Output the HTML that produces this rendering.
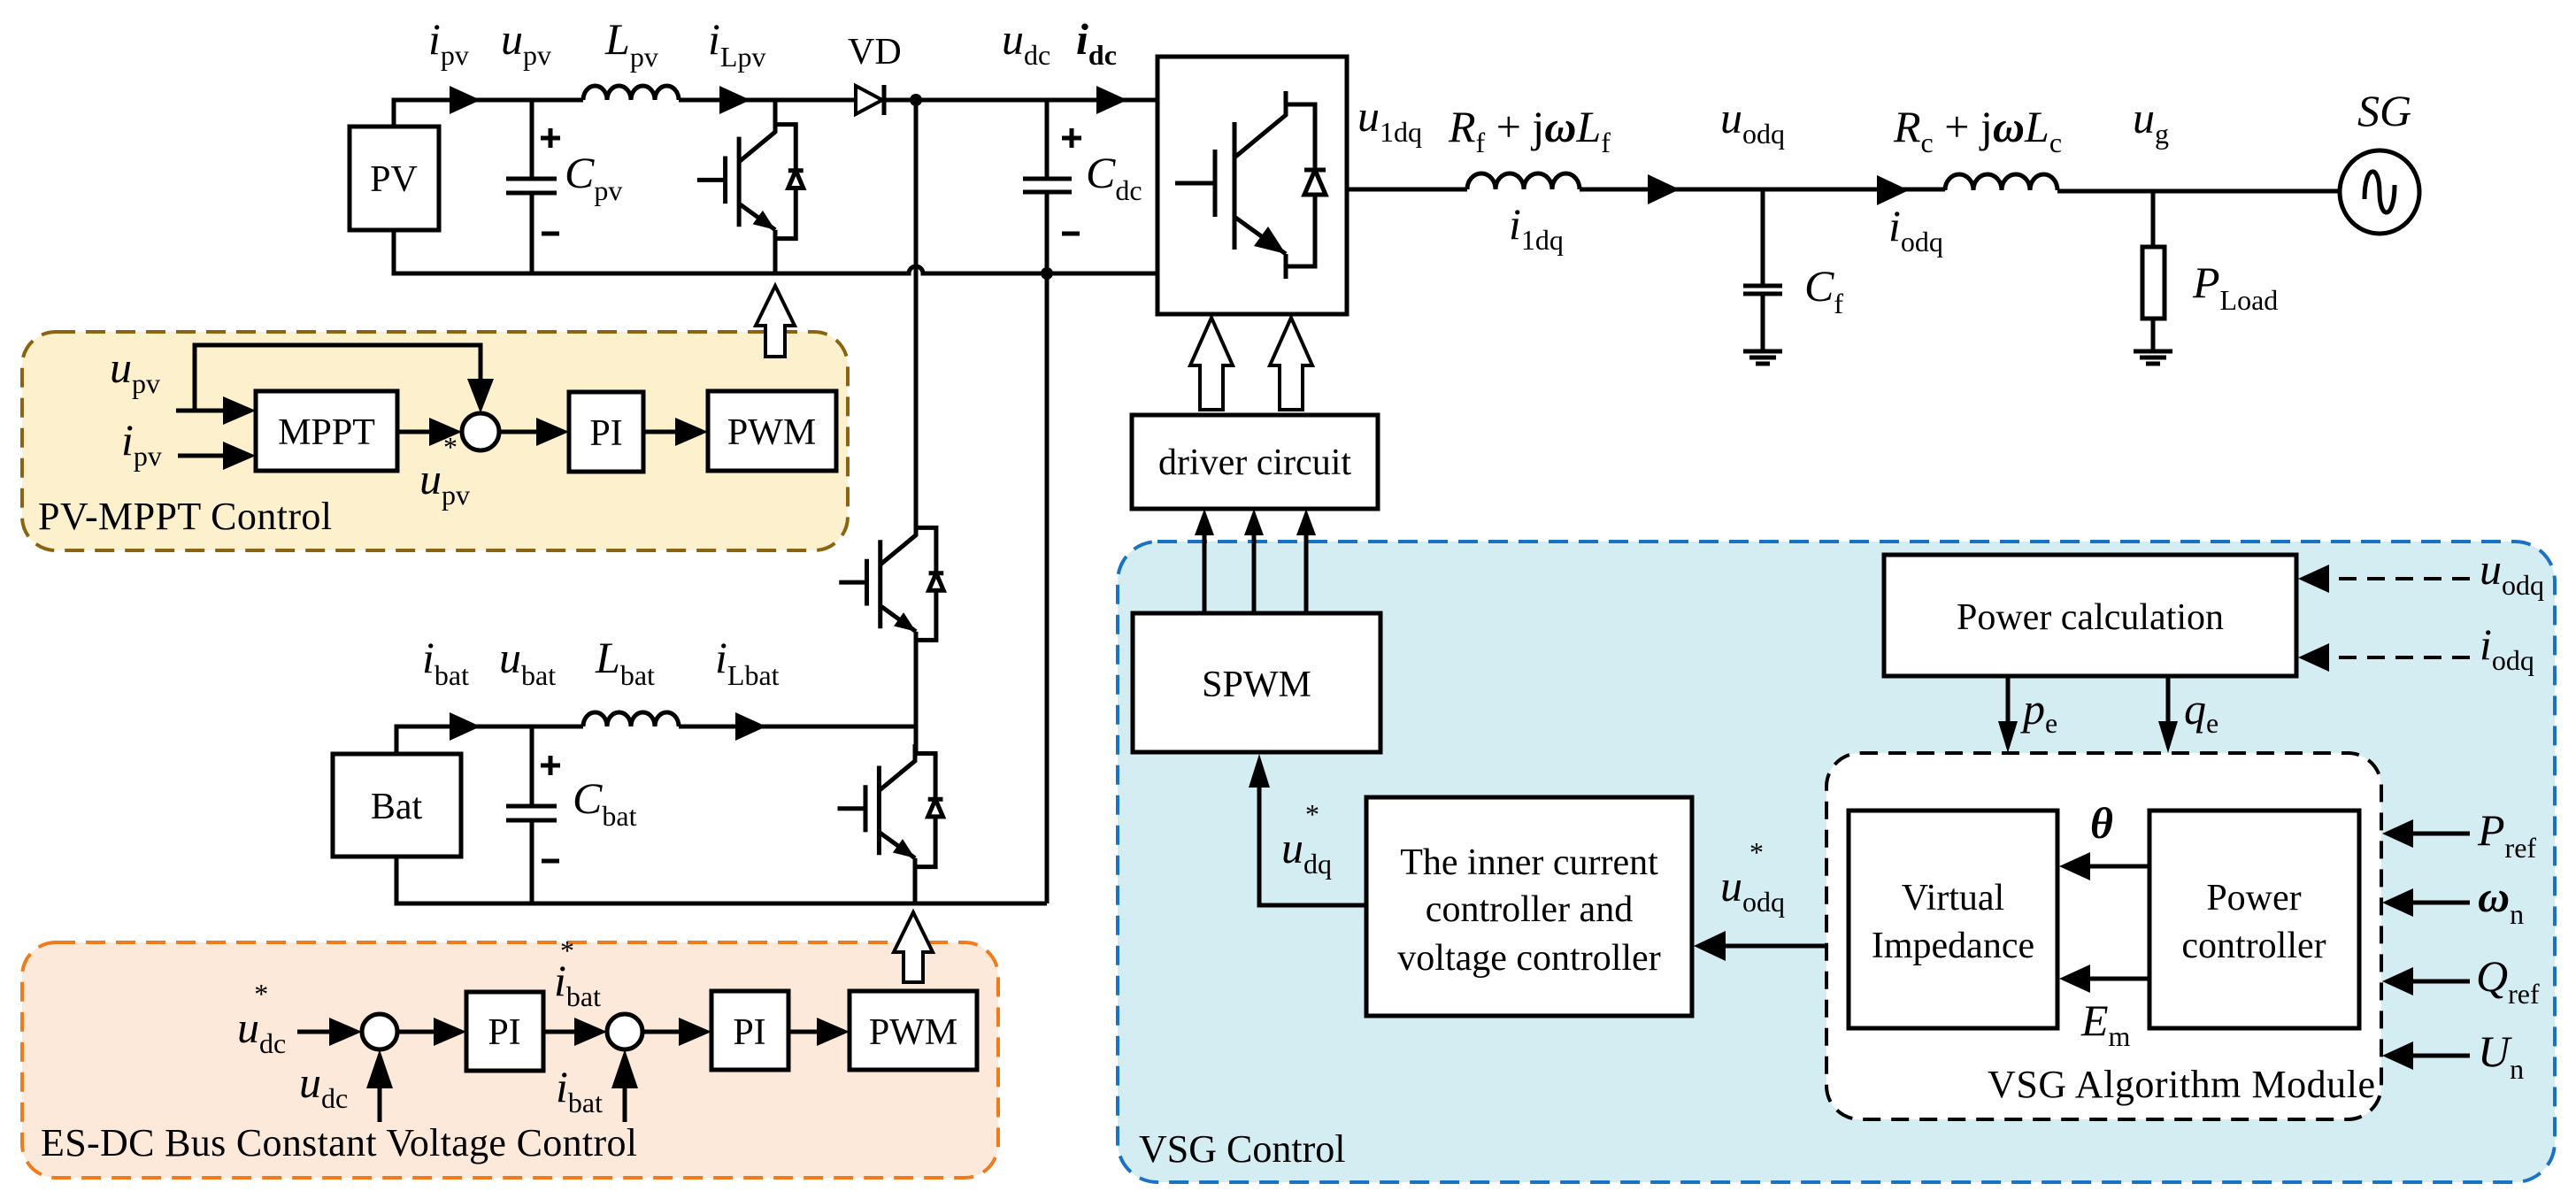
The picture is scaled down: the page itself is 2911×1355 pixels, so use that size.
<!DOCTYPE html>
<html><head><meta charset="utf-8"><style>
html,body{margin:0;padding:0;background:#fff}
svg{display:block}
text{font-family:"Liberation Serif",serif;fill:#000}
.v{font-style:italic;font-size:50px}
.s{font-style:normal;font-size:32px}
.t{font-size:42px}
.w{stroke:#000;stroke-width:5;fill:none}
.b{stroke:#000;stroke-width:5;fill:#fff}
</style></head><body>
<svg width="2911" height="1355" viewBox="0 0 2911 1355" xmlns="http://www.w3.org/2000/svg">
<defs>
<g id="igbt" fill="none" stroke="#000">
<path vector-effect="non-scaling-stroke" stroke-width="5" d="M0,0 V27 L-58,75 M0,15 H33 V198 H0 M0,184 V212 M-58,35 V179 M-80,66 V142 M-125,104 H-80 M-58,142 L0,184"/>
<path vector-effect="non-scaling-stroke" stroke-width="5" d="M21,89 H45"/>
<polygon vector-effect="non-scaling-stroke" stroke-width="5" fill="#fff" points="33,89 21,117 45,117"/>
<polygon points="0,184 -36,175 -20,153" fill="#000" stroke="none"/>
</g>
</defs>

<rect x="25" y="375" width="933" height="247" rx="38" fill="#fdf0cc" stroke="#8a6410" stroke-width="4" stroke-dasharray="22 12"/>
<rect x="25" y="1065" width="1103" height="266" rx="38" fill="#fde9da" stroke="#f07b1c" stroke-width="4" stroke-dasharray="22 12"/>
<rect x="1263" y="612" width="1624" height="724" rx="45" fill="#d4edf2" stroke="#1a72c4" stroke-width="4" stroke-dasharray="22 12"/>
<rect x="2064" y="851" width="627" height="414" rx="38" fill="#fff" stroke="#000" stroke-width="4" stroke-dasharray="20 12"/>

<rect class="b" x="395" y="143" width="101" height="117"/>
<text class="t" x="445" y="216" text-anchor="middle">PV</text>
<path class="w" d="M445,143 V113 H659 M767,113 H1308 M445,260 V309 H1027 A8,8 0 0 1 1043,309 H1308"/>
<path class="w" d="M659,113 a13.5,16 0 0 1 27,0 a13.5,16 0 0 1 27,0 a13.5,16 0 0 1 27,0 a13.5,16 0 0 1 27,0"/>
<polygon points="543,113 508,97 508,129"/>
<polygon points="848,113 813,97 813,129"/>
<polygon points="1274,113 1239,97 1239,129"/>
<path class="w" d="M601,113 V202 M601,218 V309 M572,202 H629 M572,218 H629"/>
<path class="w" d="M611,156 H633 M622,145 V167 M612,264 H632" stroke-width="4"/>
<use href="#igbt" transform="translate(876,130) scale(0.705)"/>
<path class="w" d="M876,113 V131 M876,278 V309"/>
<polygon points="967,97 967,129 997,113" fill="#fff" stroke="#000" stroke-width="4"/>
<path class="w" d="M999,96 V130"/>
<circle cx="1035" cy="113" r="7"/>
<path class="w" d="M1183,113 V202 M1183,217 V1021 M1156,202 H1211 M1156,217 H1211"/>
<path class="w" d="M1200,156 H1222 M1211,145 V167 M1200,264 H1220" stroke-width="4"/>
<circle cx="1183" cy="309" r="7"/>
<path class="w" d="M1035,113 V598 M1035,722 V852 M1034,979 V1021"/>
<use href="#igbt" transform="translate(1035,586) scale(0.694)"/>
<use href="#igbt" transform="translate(1034,841) scale(0.70)"/>

<rect class="b" x="376" y="852" width="145" height="116"/>
<text class="t" x="448" y="925" text-anchor="middle">Bat</text>
<path class="w" d="M448,852 V821 H659 M767,821 H1035 M448,968 V1021 H1183"/>
<path class="w" d="M659,821 a13.5,16 0 0 1 27,0 a13.5,16 0 0 1 27,0 a13.5,16 0 0 1 27,0 a13.5,16 0 0 1 27,0"/>
<polygon points="543,821 508,805 508,837"/>
<polygon points="866,821 831,805 831,837"/>
<path class="w" d="M601,821 V911 M601,927 V1021 M572,911 H629 M572,927 H629"/>
<path class="w" d="M611,865 H633 M622,854 V876 M612,973 H632" stroke-width="4"/>

<polygon points="876,323 898,368 887,368 887,403 865,403 865,368 854,368" fill="#fff" stroke="#000" stroke-width="4"/>
<polygon points="1032,1031 1054,1076 1043,1076 1043,1110 1021,1110 1021,1076 1010,1076" fill="#fff" stroke="#000" stroke-width="4"/>
<polygon points="1369,359 1393,413 1382,413 1382,463 1356,463 1356,413 1345,413" fill="#fff" stroke="#000" stroke-width="4"/>
<polygon points="1459,359 1483,413 1472,413 1472,463 1446,463 1446,413 1435,413" fill="#fff" stroke="#000" stroke-width="4"/>

<rect class="b" x="1308" y="64" width="214" height="291"/>
<use href="#igbt" transform="translate(1453,103)"/>
<path class="w" d="M1522,214 H1658 M1785,214 H2198 M2325,216 H2643"/>
<path class="w" d="M1658,214 a16,18 0 0 1 32,0 a16,18 0 0 1 32,0 a16,18 0 0 1 32,0 a15.5,18 0 0 1 31,0"/>
<path class="w" d="M2198,215 a16,18 0 0 1 32,0 a16,18 0 0 1 32,0 a16,18 0 0 1 32,0 a15.5,18 0 0 1 31,0"/>
<polygon points="1898,214 1862,197 1862,231"/>
<polygon points="2157,215 2121,198 2121,232"/>
<path class="w" d="M1992,214 V323 M1992,332 V397 M1970,323 H2014 M1970,332 H2014" stroke-width="4"/>
<path class="w" d="M1970,397 H2014 M1977,404 H2007 M1984,411 H2000" stroke-width="4"/>
<path class="w" d="M2433,216 V279 M2433,360 V397" stroke-width="4"/>
<rect x="2421" y="279" width="25" height="81" fill="#fff" stroke="#000" stroke-width="5"/>
<path class="w" d="M2411,397 H2455 M2418,404 H2448 M2425,411 H2441" stroke-width="4"/>
<ellipse cx="2689" cy="217" rx="45" ry="47" fill="#fff" stroke="#000" stroke-width="5"/>
<path class="w" d="M2672,225 C2672,185 2689,185 2689,217 C2689,249 2706,249 2706,209" stroke-width="4"/>

<text class="v" x="484" y="61">i<tspan class="s" dy="12">pv</tspan></text>
<text class="v" x="566" y="61">u<tspan class="s" dy="12">pv</tspan></text>
<text class="v" x="684" y="61">L<tspan class="s" dy="14">pv</tspan></text>
<text class="v" x="800" y="61">i<tspan class="s" dy="14">Lpv</tspan></text>
<text class="t" x="958" y="72">VD</text>
<text class="v" x="1132" y="61">u<tspan class="s" dy="12">dc</tspan></text>
<text class="v" x="1216" y="61" font-weight="bold">i<tspan class="s" dy="12" font-weight="bold" font-size="38">dc</tspan></text>
<text class="v" x="638" y="212">C<tspan class="s" dy="14">pv</tspan></text>
<text class="v" x="1227" y="212">C<tspan class="s" dy="14">dc</tspan></text>
<text class="v" x="477" y="760">i<tspan class="s" dy="14">bat</tspan></text>
<text class="v" x="564" y="760">u<tspan class="s" dy="14">bat</tspan></text>
<text class="v" x="673" y="760">L<tspan class="s" dy="14">bat</tspan></text>
<text class="v" x="808" y="760">i<tspan class="s" dy="14">Lbat</tspan></text>
<text class="v" x="647" y="919">C<tspan class="s" dy="14">bat</tspan></text>
<text class="v" x="1534" y="148">u<tspan class="s" dy="12">1dq</tspan></text>
<text class="v" x="1637" y="160">R<tspan class="s" dy="12">f</tspan><tspan font-style="normal" dy="-12"> + j</tspan><tspan font-weight="bold">ω</tspan>L<tspan class="s" dy="12">f</tspan></text>
<text class="v" x="1944" y="150">u<tspan class="s" dy="12">odq</tspan></text>
<text class="v" x="2140" y="160">R<tspan class="s" dy="12">c</tspan><tspan font-style="normal" dy="-12"> + j</tspan><tspan font-weight="bold">ω</tspan>L<tspan class="s" dy="12">c</tspan></text>
<text class="v" x="2410" y="150">u<tspan class="s" dy="12">g</tspan></text>
<text class="v" x="2664" y="142" font-size="42">SG</text>
<text class="v" x="1705" y="270">i<tspan class="s" dy="12">1dq</tspan></text>
<text class="v" x="2134" y="272">i<tspan class="s" dy="12">odq</tspan></text>
<text class="v" x="2039" y="340">C<tspan class="s" dy="14">f</tspan></text>
<text class="v" x="2478" y="336">P<tspan class="s" dy="14">Load</tspan></text>

<rect class="b" x="289" y="442" width="160" height="90"/>
<text class="t" x="369" y="502" text-anchor="middle">MPPT</text>
<circle cx="543" cy="488" r="21" fill="#fff" stroke="#000" stroke-width="5"/>
<rect class="b" x="643" y="443" width="84" height="90"/>
<text class="t" x="685" y="503" text-anchor="middle">PI</text>
<rect class="b" x="800" y="442" width="145" height="90"/>
<text class="t" x="872" y="502" text-anchor="middle">PWM</text>
<path class="w" d="M199,464 H260 M220,464 V390 H543 V440 M201,515 H262 M449,488 H490 M564,488 H610 M727,488 H768"/>
<polygon points="289,464 252,448 252,480"/>
<polygon points="289,515 252,499 252,531"/>
<polygon points="543,467 528,428 558,428"/>
<polygon points="522,488 485,472 485,504"/>
<polygon points="643,488 606,472 606,504"/>
<polygon points="800,488 763,472 763,504"/>
<text class="v" x="124" y="432">u<tspan class="s" dy="12">pv</tspan></text>
<text class="v" x="137" y="514">i<tspan class="s" dy="12">pv</tspan></text>
<text class="v" x="474" y="558">u<tspan class="s" dy="12">pv</tspan><tspan class="s" dx="-30" dy="-54">*</tspan></text>
<text x="43" y="598" font-size="44" textLength="332">PV-MPPT Control</text>

<circle cx="429" cy="1166" r="20" fill="#fff" stroke="#000" stroke-width="5"/>
<rect class="b" x="527" y="1121" width="87" height="89"/>
<text class="t" x="570" y="1180" text-anchor="middle">PI</text>
<circle cx="706" cy="1166" r="20" fill="#fff" stroke="#000" stroke-width="5"/>
<rect class="b" x="804" y="1120" width="87" height="89"/>
<text class="t" x="847" y="1180" text-anchor="middle">PI</text>
<rect class="b" x="960" y="1120" width="144" height="89"/>
<text class="t" x="1032" y="1180" text-anchor="middle">PWM</text>
<path class="w" d="M336,1166 H380 M450,1166 H490 M614,1166 H660 M726,1166 H768 M891,1166 H925 M429,1268 V1220 M706,1268 V1220"/>
<polygon points="409,1166 372,1150 372,1182"/>
<polygon points="527,1166 490,1150 490,1182"/>
<polygon points="686,1166 649,1150 649,1182"/>
<polygon points="804,1166 767,1150 767,1182"/>
<polygon points="960,1166 923,1150 923,1182"/>
<polygon points="429,1186 414,1230 444,1230"/>
<polygon points="706,1186 691,1230 721,1230"/>
<text class="v" x="268" y="1178">u<tspan class="s" dy="12">dc</tspan><tspan class="s" dx="-36" dy="-56">*</tspan></text>
<text class="v" x="338" y="1240">u<tspan class="s" dy="12">dc</tspan></text>
<text class="v" x="626" y="1125">i<tspan class="s" dy="12">bat</tspan><tspan class="s" dx="-46" dy="-52">*</tspan></text>
<text class="v" x="628" y="1245">i<tspan class="s" dy="12">bat</tspan></text>
<text x="46" y="1306" font-size="44" textLength="674">ES-DC Bus Constant Voltage Control</text>

<rect class="b" x="1279" y="469" width="278" height="106"/>
<text class="t" x="1418" y="536" text-anchor="middle">driver circuit</text>
<rect class="b" x="1280" y="693" width="280" height="157"/>
<text class="t" x="1420" y="787" text-anchor="middle">SPWM</text>
<path class="w" d="M1361,693 V600 M1417,693 V600 M1476,693 V600" stroke-width="4"/>
<polygon points="1361,575 1350,605 1372,605"/>
<polygon points="1417,575 1406,605 1428,605"/>
<polygon points="1476,575 1465,605 1487,605"/>
<rect class="b" x="2129" y="627" width="466" height="137"/>
<text class="t" x="2362" y="711" text-anchor="middle">Power  calculation</text>
<path d="M2791,654 H2625 M2791,743 H2625" stroke="#000" stroke-width="4" stroke-dasharray="20 12"/>
<polygon points="2597,654 2632,638 2632,670"/>
<polygon points="2597,743 2632,727 2632,759"/>
<text class="v" x="2802" y="660">u<tspan class="s" dy="12">odq</tspan></text>
<text class="v" x="2802" y="745">i<tspan class="s" dy="12">odq</tspan></text>
<path class="w" d="M2269,764 V825 M2450,764 V825" stroke-width="4"/>
<polygon points="2269,851 2258,815 2280,815"/>
<polygon points="2450,851 2439,815 2461,815"/>
<text class="v" x="2286" y="818">p<tspan class="s" dy="10">e</tspan></text>
<text class="v" x="2468" y="818">q<tspan class="s" dy="10">e</tspan></text>
<rect class="b" x="2089" y="916" width="236" height="246"/>
<text class="t" x="2207" y="1028" text-anchor="middle">Virtual</text>
<text class="t" x="2207" y="1082" text-anchor="middle">Impedance</text>
<rect class="b" x="2429" y="916" width="237" height="246"/>
<text class="t" x="2547" y="1028" text-anchor="middle">Power</text>
<text class="t" x="2547" y="1082" text-anchor="middle">controller</text>
<path class="w" d="M2429,979 H2355 M2429,1106 H2355"/>
<polygon points="2327,979 2362,963 2362,995"/>
<polygon points="2327,1106 2362,1090 2362,1122"/>
<text class="v" x="2362" y="947" font-weight="bold">θ</text>
<text class="v" x="2352" y="1170">E<tspan class="s" dy="12">m</tspan></text>
<text x="2246" y="1240" font-size="44" textLength="438">VSG Algorithm Module</text>
<path class="w" d="M2791,942 H2720 M2791,1020 H2720 M2791,1109 H2720 M2791,1193 H2720"/>
<polygon points="2692,942 2727,926 2727,958"/>
<polygon points="2692,1020 2727,1004 2727,1036"/>
<polygon points="2692,1109 2727,1093 2727,1125"/>
<polygon points="2692,1193 2727,1177 2727,1209"/>
<text class="v" x="2800" y="955">P<tspan class="s" dy="14">ref</tspan></text>
<text class="v" x="2800" y="1030" font-weight="bold">ω<tspan class="s" dy="14" font-weight="normal">n</tspan></text>
<text class="v" x="2798" y="1120">Q<tspan class="s" dy="14">ref</tspan></text>
<text class="v" x="2800" y="1205">U<tspan class="s" dy="14">n</tspan></text>
<rect class="b" x="1544" y="901" width="368" height="247"/>
<text class="t" x="1728" y="988" text-anchor="middle">The inner current</text>
<text class="t" x="1728" y="1041" text-anchor="middle">controller and</text>
<text class="t" x="1728" y="1096" text-anchor="middle">voltage controller</text>
<path class="w" d="M2064,1069 H1945"/>
<polygon points="1914,1069 1950,1052 1950,1086"/>
<text class="v" x="1944" y="1018">u<tspan class="s" dy="12">odq</tspan><tspan class="s" dx="-40" dy="-56">*</tspan></text>
<path class="w" d="M1544,1023 H1423 V880"/>
<polygon points="1423,852 1411,890 1435,890"/>
<text class="v" x="1448" y="975">u<tspan class="s" dy="12">dq</tspan><tspan class="s" dx="-30" dy="-56">*</tspan></text>
<text x="1287" y="1313" font-size="44">VSG Control</text>
</svg>
</body></html>
